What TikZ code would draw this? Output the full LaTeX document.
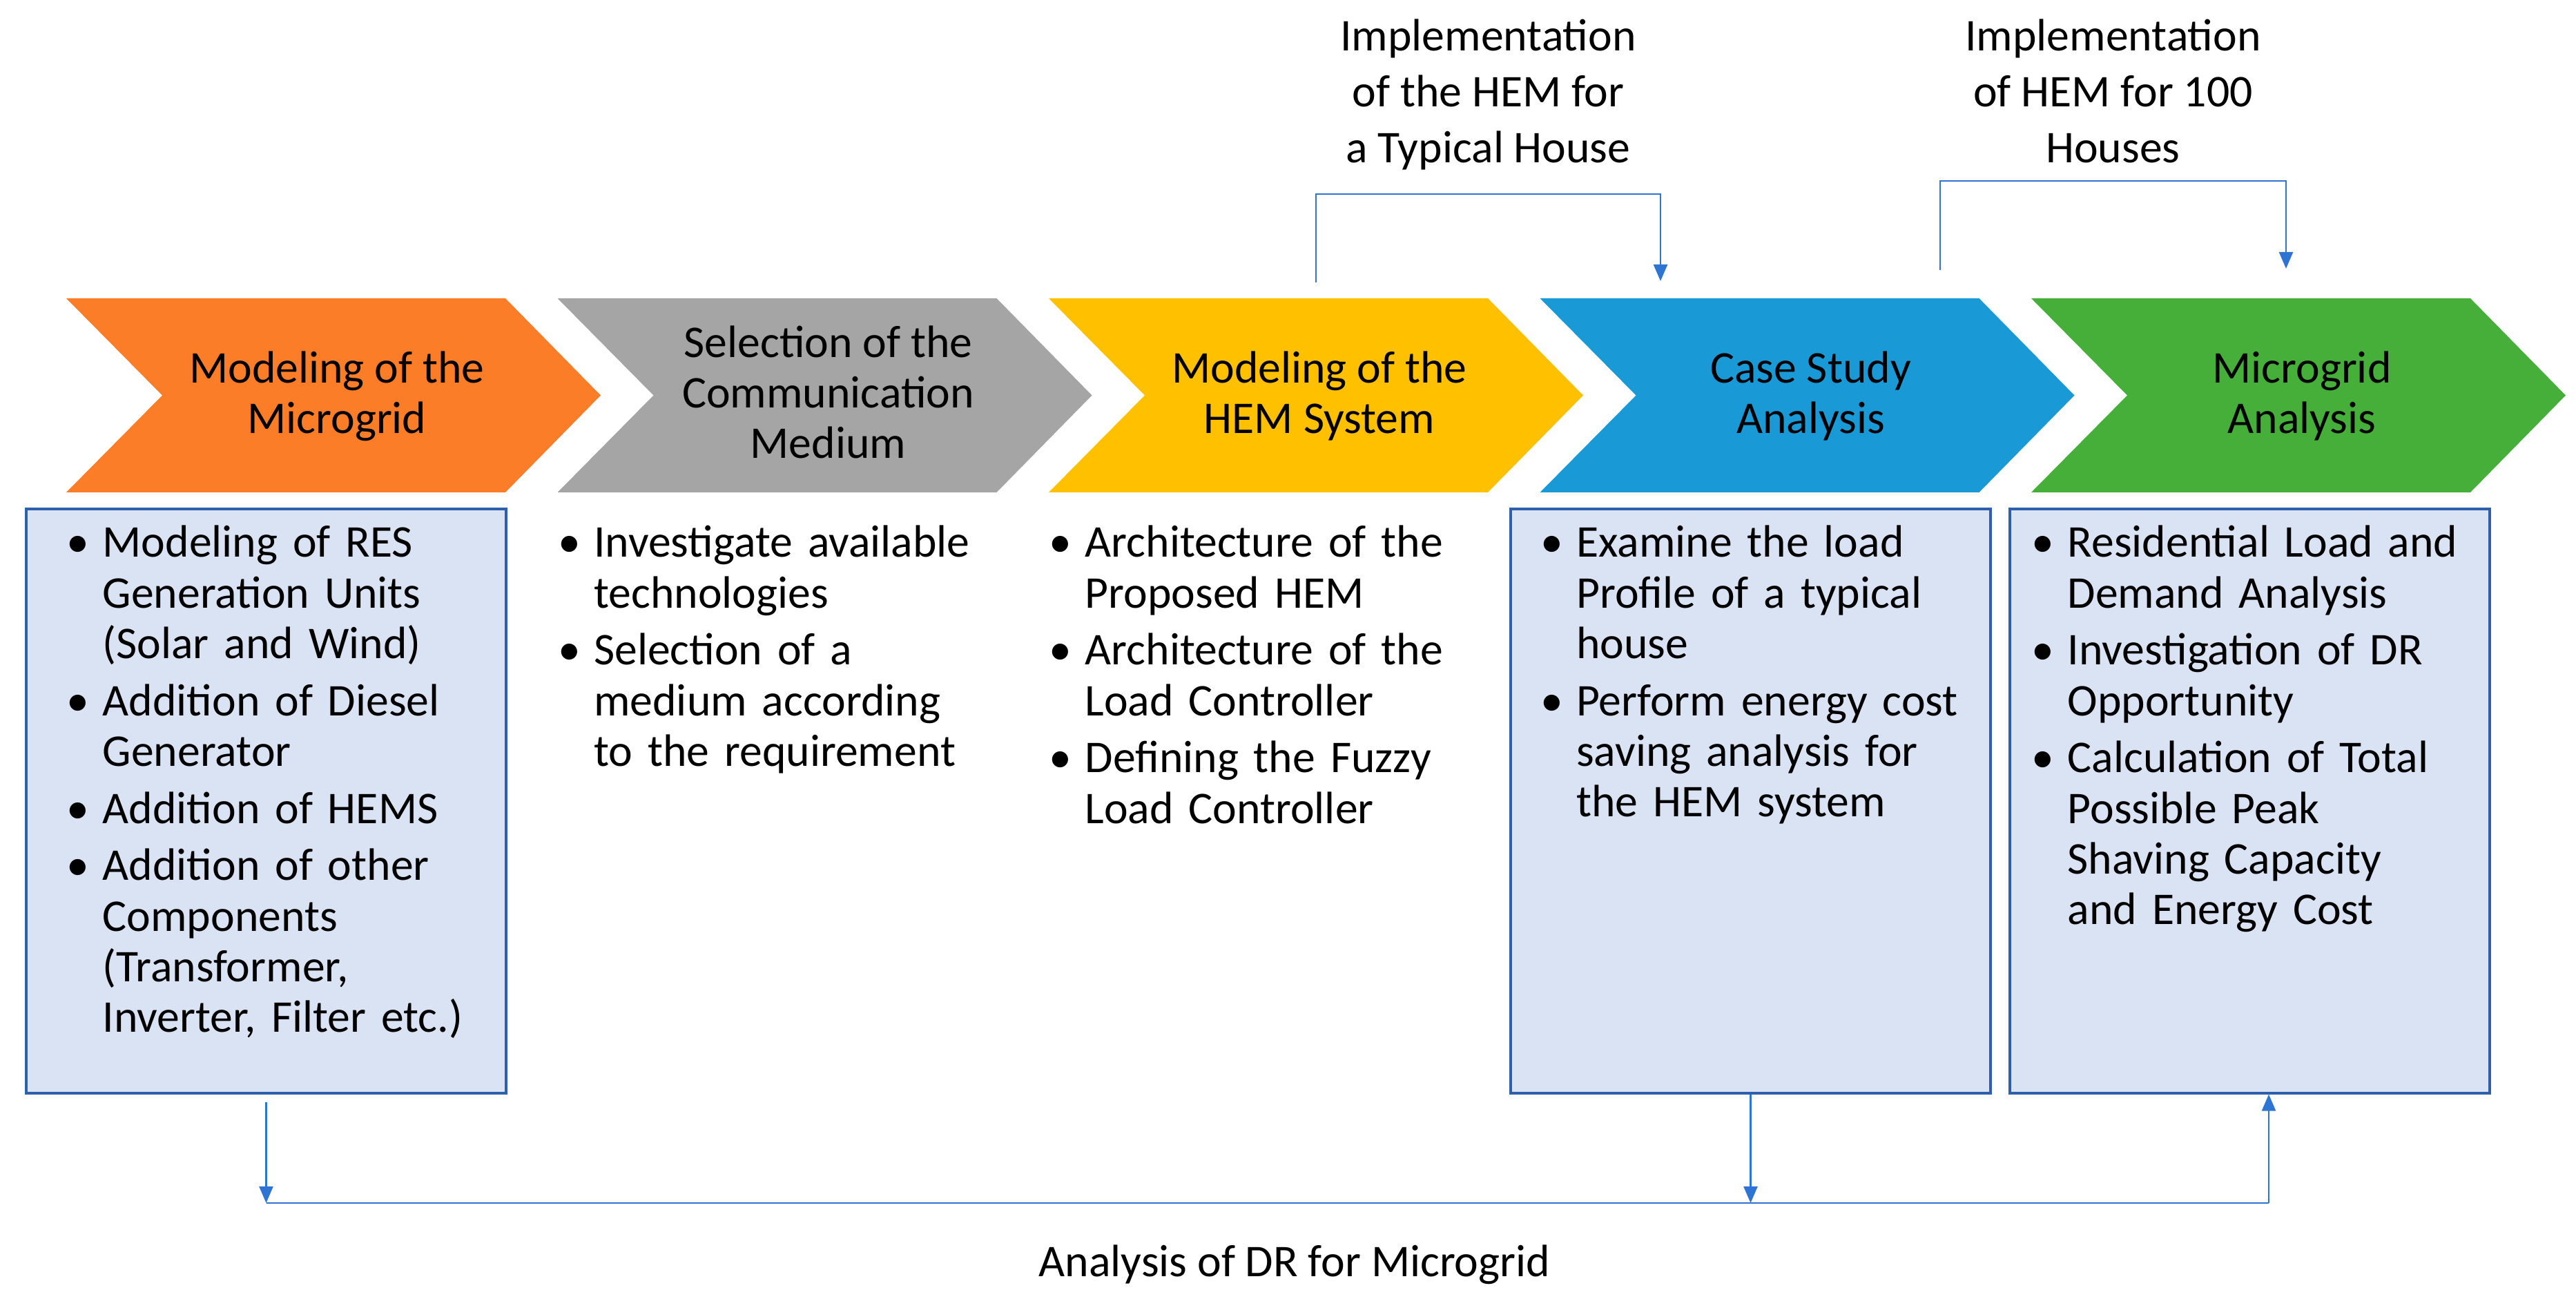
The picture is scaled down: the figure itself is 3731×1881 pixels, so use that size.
\documentclass[tikz,border=0pt]{standalone}
\usepackage{fontspec}
\setmainfont{Carlito}
\usepackage{tikz}
\usetikzlibrary{arrows.meta, positioning}

\definecolor{stepOrange}{HTML}{FB7D28}
\definecolor{stepGray}{HTML}{A5A5A5}
\definecolor{stepYellow}{HTML}{FFC000}
\definecolor{stepBlue}{HTML}{199AD6}
\definecolor{stepGreen}{HTML}{45AF3A}
\definecolor{boxFill}{HTML}{DAE3F3}
\definecolor{boxLine}{HTML}{2C5FAD}
\definecolor{flowBlue}{HTML}{2E75D3}

\newcommand{\bul}[1]{\par\noindent\hangindent=5.2mm\hangafter=1\strut\makebox[5.2mm][l]{\textbullet}#1\par}

\begin{document}
\begin{tikzpicture}[x=0.1mm, y=-0.1mm, >={Triangle[length=2.4mm, width=2mm]},
        steptitle/.style={align=center, inner sep=0pt, font=\fontsize{18.7}{20.84}\selectfont},
        steplist/.style={text width=62mm, align=left, inner sep=0pt, font=\fontsize{18.7}{20.84}\selectfont,
                execute at begin node={\setlength{\parskip}{0.95mm}}},
        taskbox/.style={draw=boxLine, fill=boxFill, line width=0.32mm, minimum width=69.5mm, minimum height=84.6mm, inner sep=0pt},
        flow/.style={draw=flowBlue, line width=0.25mm},
        note/.style={align=center, inner sep=0pt, font=\fontsize{18.7}{23}\selectfont}]
        \useasboundingbox (0,0) rectangle (3731,1881);

        \foreach \i/\col/\nm/\ttl in {0/stepOrange/mgrid/{Modeling of the\\Microgrid},
                1/stepGray/comm/{Selection of the\\Communication\\Medium},
                2/stepYellow/hem/{Modeling of the\\HEM System},
                3/stepBlue/case/{Case Study\\Analysis},
                4/stepGreen/mgana/{Microgrid\\Analysis}} {
                \fill [\col] (96+711.5*\i,432) -- ++(636,0) -- ++(138,140.5) -- ++(-138,140.5) -- ++(-636,0) -- ++(139,-140.5) -- cycle;
                \coordinate (\nm-sw) at (96+711.5*\i,713);
                \node [steptitle] (\nm) at (488+711.5*\i,576) {\strut\ttl\strut};
        }

        \node [taskbox] (mgbox) at (385.5,1160) {};
        \node [taskbox] (casebox) at (2535.5,1160) {};
        \node [taskbox] (gridbox) at (3258.5,1160) {};

        \node [steplist, below right=1.05mm and 0mm of mgrid-sw] (mgrid-list) {%
                \bul{Modeling of RES\newline Generation Units\newline (Solar and Wind)}%
                \bul{Addition of Diesel\newline Generator}%
                \bul{Addition of HEMS}%
                \bul{Addition of other\newline Components\newline (Transformer,\newline Inverter, Filter etc.)}};
        \node [steplist, below right=1.05mm and 0mm of comm-sw] (comm-list) {%
                \bul{Investigate available\newline technologies}%
                \bul{Selection of a\newline medium according\newline to the requirement}};
        \node [steplist, below right=1.05mm and 0mm of hem-sw] (hem-list) {%
                \bul{Architecture of the\newline Proposed HEM}%
                \bul{Architecture of the\newline Load Controller}%
                \bul{Defining the Fuzzy\newline Load Controller}};
        \node [steplist, below right=1.05mm and 0mm of case-sw] (case-list) {%
                \bul{Examine the load\newline Profile of a typical\newline house}%
                \bul{Perform energy cost\newline saving analysis for\newline the HEM system}};
        \node [steplist, below right=1.05mm and 0mm of mgana-sw] (mgana-list) {%
                \bul{Residential Load and\newline Demand Analysis}%
                \bul{Investigation of DR\newline Opportunity}%
                \bul{Calculation of Total\newline Possible Peak\newline Shaving Capacity\newline and Energy Cost}};

        \coordinate (hemtop) at (1906,409);
        \coordinate (casetop) at (2405,407);
        \coordinate (casefrom) at (2810,391);
        \coordinate (gridtop) at (3311,389);
        \draw [flow, ->] (hemtop) -- ++(0,-128) -| (casetop)
                node [note, above=2.0mm, pos=0.25] (onehouse) {\strut Implementation\\of the HEM for\\a Typical House\strut};
        \draw [flow, ->] (casefrom) -- ++(0,-129) -| (gridtop)
                node [note, above=0.1mm, pos=0.25] (allhouses) {\strut Implementation\\of HEM for 100\\Houses\strut};

        \coordinate (busend) at (3286,1742);
        \draw [flow, ->] ([yshift=-1.1mm]mgbox.south) -- (mgbox.south |- busend);
        \draw [flow, ->] (casebox.south) -- (casebox.south |- busend);
        \draw [flow, ->] (busend) -- (busend |- gridbox.south);
        \draw [flow] (mgbox.south |- busend) -- (busend);
        \node [note, anchor=base] (drlabel) at (1875,1848) {Analysis of DR for Microgrid};
\end{tikzpicture}
\end{document}
